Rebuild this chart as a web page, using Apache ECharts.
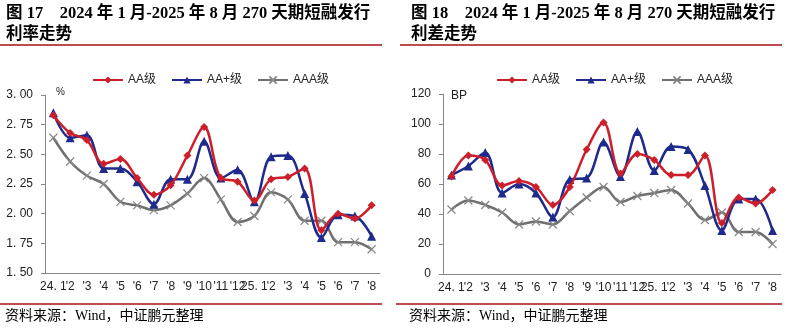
<!DOCTYPE html>
<html><head><meta charset="utf-8">
<script src="https://cdn.jsdelivr.net/npm/echarts@6/dist/echarts.min.js"></script>
<style>html,body{margin:0;padding:0;background:#fff}#c{width:788px;height:330px}</style>
</head><body><div id="c"></div>
<script>
const categories = ['24. 1',"'2","'3","'4","'5","'6","'7","'8","'9","'10","'11","'12",'25. 1',"'2","'3","'4","'5","'6","'7","'8"];
const seriesNames = ['AA级','AA+级','AAA级'];
// Figure 17: issuance rate (%)
const rateAA   = [2.83,2.68,2.62,2.42,2.46,2.30,2.16,2.24,2.49,2.73,2.30,2.27,2.11,2.29,2.31,2.38,1.86,2.00,1.96,2.07];
const rateAAp  = [2.85,2.64,2.66,2.38,2.38,2.27,2.08,2.29,2.29,2.61,2.30,2.37,2.10,2.48,2.49,2.17,1.80,1.99,1.98,1.81];
const rateAAA  = [2.64,2.44,2.32,2.25,2.10,2.07,2.03,2.07,2.17,2.30,2.12,1.93,1.98,2.18,2.12,1.94,1.94,1.76,1.76,1.70];
// Figure 18: spread (BP)
const sprAA    = [65,79,76,59,62,58,46,58,83,101,67,80,76,66,66,79,34,51,47,56];
const sprAAp   = [66,72,81,54,60,54,38,63,64,88,65,95,69,85,83,59,29,50,50,29];
const sprAAA   = [43,49,46,41,33,35,33,42,51,58,48,52,54,56,47,36,41,28,28,20];
const rateTicks = {min:1.5, max:3.0, interval:0.25};
const sprTicks  = {min:0, max:120, interval:20};

const colors = ['#CC1F2B','#1E2B8C','#707070'];
const symbols = ['diamond','triangle','path://M0,0L10,10M10,0L0,10'];
const symbolSizes = [8,9,8];

const chart = echarts.init(document.getElementById('c'), null, {renderer:'canvas'});
const axisLabelFont = {fontFamily:'Arial, "Liberation Sans", "Noto Sans CJK SC"', fontSize:12, color:'#222'};

function mkSeries(data, i, axisIdx){
  const isX = i===2;
  return {
    name: seriesNames[i], type:'line', xAxisIndex:axisIdx, yAxisIndex:axisIdx,
    data: data, smooth:0.35, symbol:symbols[i], symbolSize:symbolSizes[i],
    showAllSymbol:true,
    lineStyle:{color:colors[i], width:2.5},
    itemStyle:isX ? {color:'#888', borderColor:'#888', borderWidth:1.2} : {color:colors[i], borderColor:colors[i], borderWidth:0},
    z: 3-i
  };
}

function mkX(idx){
  return {type:'category', gridIndex:idx, data:categories, boundaryGap:true,
    axisLine:{lineStyle:{color:'#888', width:1}},
    axisTick:{alignWithLabel:true, length:4, lineStyle:{color:'#888'}},
    axisLabel:Object.assign({interval:0, margin:8}, axisLabelFont)};
}
function mkY(idx, t, fmt){
  return {type:'value', gridIndex:idx, min:t.min, max:t.max, interval:t.interval,
    splitLine:{show:false},
    axisLine:{show:true, lineStyle:{color:'#888', width:1}},
    axisTick:{show:true, length:4, lineStyle:{color:'#888'}},
    axisLabel:Object.assign({margin:12, formatter:fmt}, axisLabelFont)};
}
function mkLegend(left){
  return {left:left, top:69, itemWidth:30, itemHeight:9, itemGap:15,
    textStyle:{fontFamily:'Arial, "Liberation Sans", "Noto Sans CJK SC"', fontSize:12, color:'#222'},
    data:seriesNames.slice()};
}

const titleFont = 'bold 16.5px "Liberation Serif", "Noto Sans CJK SC"';
const srcFont = '14px "Liberation Serif", "Noto Sans CJK SC"';

chart.setOption({
  animation:false,
  color:colors,
  grid:[
    {left:45, right:408, top:95, bottom:57, containLabel:false},
    {left:443, right:7, top:94, bottom:56, containLabel:false}
  ],
  legend:[mkLegend(87), mkLegend(491)],
  xAxis:[mkX(0), mkX(1)],
  yAxis:[mkY(0, rateTicks, v=>v.toFixed(2).replace('.', '. ')), mkY(1, sprTicks, v=>String(v))],
  series:[
    mkSeries(rateAA,0,0), mkSeries(rateAAp,1,0), mkSeries(rateAAA,2,0),
    mkSeries(sprAA,0,1), mkSeries(sprAAp,1,1), mkSeries(sprAAA,2,1)
  ],
  graphic:[
    {type:'text', left:6, top:3, style:{text:'图 17    2024 年 1 月-2025 年 8 月 270 天期短融发行\n利率走势', font:titleFont, fill:'#000', lineHeight:21}},
    {type:'text', left:411, top:3, style:{text:'图 18    2024 年 1 月-2025 年 8 月 270 天期短融发行\n利差走势', font:titleFont, fill:'#000', lineHeight:21}},
    {type:'line', shape:{x1:0, y1:45, x2:382, y2:45}, style:{stroke:'#A80F12', lineWidth:1.5}},
    {type:'line', shape:{x1:400, y1:45, x2:782, y2:45}, style:{stroke:'#A80F12', lineWidth:1.5}},
    {type:'line', shape:{x1:0, y1:304, x2:382, y2:304}, style:{stroke:'#A80F12', lineWidth:1.5}},
    {type:'line', shape:{x1:396, y1:304, x2:782, y2:304}, style:{stroke:'#A80F12', lineWidth:1.5}},
    {type:'text', left:5, top:309, style:{text:'资料来源：Wind，中证鹏元整理', font:srcFont, fill:'#000'}},
    {type:'text', left:409, top:309, style:{text:'资料来源：Wind，中证鹏元整理', font:srcFont, fill:'#000'}},
    {type:'text', left:56, top:87, style:{text:'%', font:'10px Arial, "Liberation Sans"', fill:'#222'}},
    {type:'text', left:451, top:90, style:{text:'BP', font:'12px Arial, "Liberation Sans"', fill:'#222'}}
  ]
});
</script></body></html>
